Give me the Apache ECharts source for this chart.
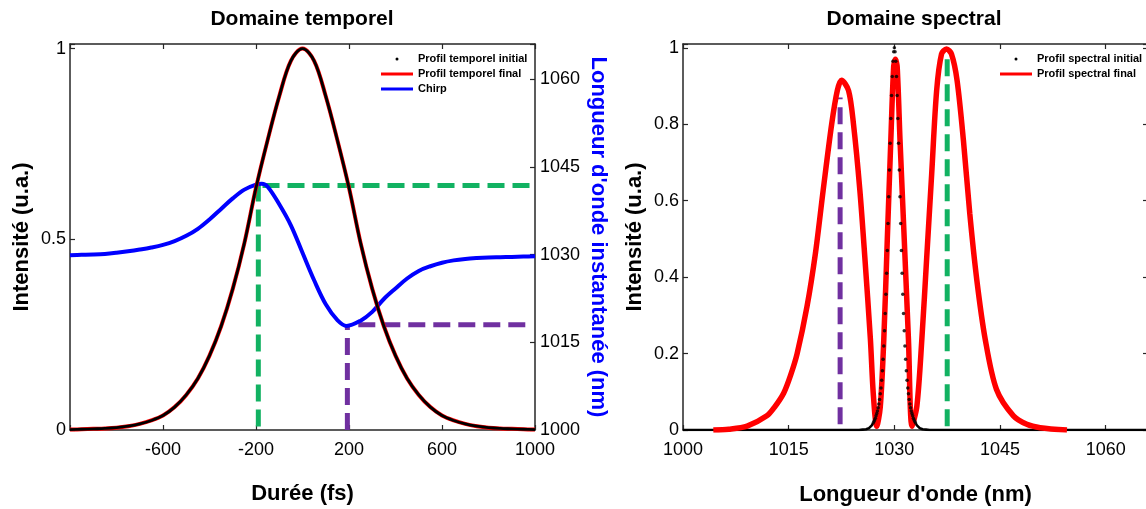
<!DOCTYPE html>
<html><head><meta charset="utf-8">
<script src="https://cdn.jsdelivr.net/npm/echarts@6/dist/echarts.min.js"></script>
<style>html,body{margin:0;padding:0;background:#fff}#c{width:1146px;height:509px}</style>
</head><body><div id="c"></div>
<script>
// ---------- Temporal domain ----------
const tempTime = [-1000,-950,-900,-850,-800,-750,-700,-650,-600,-550,-500,-450,-400,-350,-300,-250,-200,-150,-100,-50,0,50,100,150,200,250,300,350,400,450,500,550,600,650,700,750,800,850,900,950,1000];
const tempInitial = [0.001,0.002,0.003,0.004,0.006,0.010,0.016,0.025,0.038,0.060,0.092,0.135,0.195,0.272,0.370,0.490,0.635,0.760,0.875,0.968,1.000,0.968,0.875,0.760,0.635,0.490,0.370,0.272,0.195,0.135,0.092,0.060,0.038,0.025,0.016,0.010,0.006,0.004,0.003,0.002,0.001];
const tempFinal = [0.001,0.002,0.003,0.004,0.006,0.010,0.016,0.025,0.038,0.060,0.092,0.135,0.195,0.272,0.370,0.490,0.635,0.760,0.875,0.968,1.000,0.968,0.875,0.760,0.635,0.490,0.370,0.272,0.195,0.135,0.092,0.060,0.038,0.025,0.016,0.010,0.006,0.004,0.003,0.002,0.001];
const chirpTime = [-1000,-950,-900,-850,-800,-750,-700,-650,-600,-550,-500,-450,-400,-350,-300,-250,-200,-175,-150,-100,-50,0,50,100,150,190,250,300,350,400,450,500,550,600,650,700,750,800,850,900,950,1000];
const chirpNm = [1029.9,1029.95,1030.0,1030.1,1030.3,1030.55,1030.85,1031.2,1031.65,1032.3,1033.2,1034.4,1036.0,1037.8,1039.6,1041.1,1041.95,1042.1,1041.6,1038.6,1035.0,1030.3,1025.6,1021.5,1018.8,1017.8,1018.7,1020.2,1022.4,1024.2,1025.9,1027.2,1028.0,1028.6,1029.0,1029.25,1029.4,1029.5,1029.55,1029.6,1029.65,1029.7];
// dashed guide lines (temporal panel, right axis in nm)
const tGreenVertT = [-190, -190], tGreenVertNm = [1000.6, 1041.9];
const tGreenHorT = [-172, 1000], tGreenHorNm = [1041.8, 1041.8];
const tPurpleVertT = [193, 193], tPurpleVertNm = [1000, 1018.0];
const tPurpleHorT = [240, 965], tPurpleHorNm = [1018.0, 1018.0];
const tempXTicks = [-600, -200, 200, 600, 1000];
const tempYTicks = [0, 0.5, 1];
const chirpTicks = [1000, 1015, 1030, 1045, 1060];

// ---------- Spectral domain ----------
const specInitNm = [1000,1005,1010,1015,1020,1022,1023,1024,1025,1025.5,1026,1026.4,1026.8,1027.0,1027.1,1027.2,1027.3,1027.4,1027.5,1027.6,1027.7,1027.8,1027.9,1028.0,1028.1,1028.2,1028.3,1028.4,1028.5,1028.6,1028.7,1028.8,1028.9,1029.0,1029.1,1029.2,1029.3,1029.4,1029.5,1029.6,1029.7,1029.8,1029.9,1030.0,1030.1,1030.2,1030.3,1030.4,1030.5,1030.6,1030.7,1030.8,1030.9,1031.0,1031.1,1031.2,1031.3,1031.4,1031.5,1031.6,1031.7,1031.8,1031.9,1032.0,1032.1,1032.2,1032.3,1032.4,1032.5,1032.6,1032.7,1032.8,1032.9,1033.0,1033.2,1033.6,1034,1034.5,1035,1036,1038,1040,1045,1050,1055,1060,1066];
const specInitial = [0,0,0,0,0,0,0,0,0,0.001,0.002,0.005,0.012,0.018,0.022,0.026,0.031,0.037,0.043,0.050,0.058,0.068,0.080,0.095,0.110,0.130,0.155,0.185,0.220,0.260,0.305,0.355,0.410,0.470,0.540,0.610,0.680,0.750,0.815,0.875,0.925,0.965,0.990,1.000,0.990,0.965,0.925,0.875,0.815,0.750,0.680,0.610,0.540,0.470,0.410,0.355,0.305,0.260,0.220,0.185,0.155,0.130,0.110,0.095,0.080,0.068,0.058,0.050,0.043,0.037,0.031,0.026,0.022,0.018,0.012,0.005,0.002,0.001,0,0,0,0,0,0,0,0,0];
const specFinalNm = [1004.3,1006.5,1009.1,1011.9,1013.0,1014.3,1015.3,1016.2,1017.6,1018.8,1019.9,1021.1,1021.9,1022.5,1023.5,1024.2,1025.1,1025.8,1026.6,1027.0,1027.5,1028.0,1028.5,1029.0,1029.5,1029.9,1030.15,1030.4,1030.8,1031.4,1032.0,1032.5,1033.2,1033.9,1034.6,1035.3,1036.0,1036.7,1037.4,1038.1,1038.9,1039.8,1040.7,1041.7,1042.9,1044.5,1046.9,1048.8,1050.7,1054.5];
const specFinal = [0,0.002,0.010,0.037,0.060,0.097,0.145,0.200,0.323,0.463,0.628,0.800,0.888,0.915,0.888,0.800,0.628,0.454,0.237,0.097,0.010,0.060,0.237,0.500,0.760,0.950,0.970,0.950,0.760,0.500,0.237,0.010,0.063,0.237,0.454,0.671,0.888,0.984,0.997,0.984,0.915,0.758,0.567,0.393,0.237,0.106,0.037,0.015,0.006,0];
const sPurpleNm = [1022.3, 1022.3], sPurpleI = [0.015, 0.87];
const sGreenNm = [1037.5, 1037.5], sGreenI = [0.01, 0.975];
const specXTicks = [1000, 1015, 1030, 1045, 1060];
const specYTicks = [0, 0.2, 0.4, 0.6, 0.8, 1];

// ---------- helpers ----------
const FONT = "'Liberation Sans', Arial, Helvetica, sans-serif";
const BLUE = '#0000ff', RED = '#ff0000', GREEN = '#12b262', PURPLE = '#7030a0';
const pairs = (xs, ys) => xs.map((x, i) => [x, ys[i]]);
const fmt = ticks => v => { const m = ticks.find(t => Math.abs(t - v) < 1e-6); return m === undefined ? '' : String(m); };
const axLine = {show: true, onZero: false, lineStyle: {color: '#262626', width: 1.5}};
const axTick = {show: true, inside: true, length: 5, lineStyle: {color: '#262626', width: 1.2}};
const lab = (ticks, margin) => ({show: true, color: '#000', fontSize: 18, fontFamily: FONT, margin: margin, formatter: fmt(ticks), hideOverlap: false});
const nameStyle = c => ({fontSize: 22, fontWeight: 'bold', color: c || '#000', fontFamily: FONT});
const dash = (name, xs, ys, xi, yi, color) => ({
  type: 'line', name: name, xAxisIndex: xi, yAxisIndex: yi, data: pairs(xs, ys),
  symbol: 'none', z: 1, silent: true,
  lineStyle: {color: color, width: 5, type: [17, 8], cap: 'butt'}
});

const chart = echarts.init(document.getElementById('c'), null, {renderer: 'canvas'});
chart.setOption({
  animation: false,
  backgroundColor: '#fff',
  title: [
    {text: 'Domaine temporel', left: 302, top: 9, textAlign: 'center', padding: 0,
     textStyle: {fontSize: 21, fontWeight: 'bold', color: '#000', fontFamily: FONT}},
    {text: 'Domaine spectral', left: 914, top: 9, textAlign: 'center', padding: 0,
     textStyle: {fontSize: 21, fontWeight: 'bold', color: '#000', fontFamily: FONT}}
  ],
  legend: [
    {left: 381, top: 53, orient: 'vertical', itemWidth: 32, itemHeight: 3, itemGap: 3, padding: 0,
     selectedMode: false,
     textStyle: {fontSize: 11, fontWeight: 'bold', color: '#000', fontFamily: FONT, lineHeight: 12},
     data: [{name: 'Profil temporel initial', icon: 'circle'}, {name: 'Profil temporel final', icon: 'rect'}, {name: 'Chirp', icon: 'rect'}]},
    {left: 1000, top: 53, orient: 'vertical', itemWidth: 32, itemHeight: 3, itemGap: 3, padding: 0,
     selectedMode: false,
     textStyle: {fontSize: 11, fontWeight: 'bold', color: '#000', fontFamily: FONT, lineHeight: 12},
     data: [{name: 'Profil spectral initial', icon: 'circle'}, {name: 'Profil spectral final', icon: 'rect'}]}
  ],
  grid: [
    {left: 70, top: 44, width: 465, height: 386, containLabel: false, outerBoundsMode: 'none'},
    {left: 683, top: 44, width: 465, height: 386, containLabel: false, outerBoundsMode: 'none'}
  ],
  xAxis: [
    {gridIndex: 0, type: 'value', position: 'bottom', min: -1000, max: 1000, interval: 400,
     axisLine: axLine, axisTick: axTick, splitLine: {show: false}, axisLabel: lab(tempXTicks, 11),
     name: 'Durée (fs)', nameLocation: 'middle', nameGap: 53, nameTextStyle: nameStyle()},
    {gridIndex: 0, type: 'value', position: 'top', min: -1000, max: 1000, interval: 400,
     axisLine: axLine, axisTick: axTick, splitLine: {show: false}, axisLabel: {show: false}},
    {gridIndex: 1, type: 'value', position: 'bottom', min: 1000, max: 1066, interval: 15,
     axisLine: axLine, axisTick: axTick, splitLine: {show: false}, axisLabel: lab(specXTicks, 11),
     name: "Longueur d'onde (nm)", nameLocation: 'middle', nameGap: 54, nameTextStyle: nameStyle()},
    {gridIndex: 1, type: 'value', position: 'top', min: 1000, max: 1066, interval: 15,
     axisLine: axLine, axisTick: axTick, splitLine: {show: false}, axisLabel: {show: false}}
  ],
  yAxis: [
    {gridIndex: 0, type: 'value', position: 'left', min: 0, max: 1.012, interval: 0.5,
     axisLine: axLine, axisTick: axTick, splitLine: {show: false}, axisLabel: lab(tempYTicks, 4),
     name: 'Intensité (u.a.)', nameLocation: 'middle', nameRotate: 90, nameGap: 37, nameTextStyle: nameStyle()},
    {gridIndex: 0, type: 'value', position: 'right', min: 1000, max: 1066, interval: 15,
     axisLine: axLine, axisTick: axTick, splitLine: {show: false}, axisLabel: lab(chirpTicks, 5),
     name: "Longueur d'onde instantanée (nm)", nameLocation: 'middle', nameRotate: -90, nameGap: 52, nameTextStyle: nameStyle(BLUE)},
    {gridIndex: 1, type: 'value', position: 'left', min: 0, max: 1.01, interval: 0.2,
     axisLine: axLine, axisTick: axTick, splitLine: {show: false}, axisLabel: lab(specYTicks, 4),
     name: 'Intensité (u.a.)', nameLocation: 'middle', nameRotate: 90, nameGap: 37, nameTextStyle: nameStyle()},
    {gridIndex: 1, type: 'value', position: 'right', min: 0, max: 1.01, interval: 0.2,
     axisLine: axLine, axisTick: axTick, splitLine: {show: false}, axisLabel: {show: false}}
  ],
  series: [
    // temporal panel
    dash('g1', tGreenVertT, tGreenVertNm, 0, 1, GREEN),
    dash('g2', tGreenHorT, tGreenHorNm, 0, 1, GREEN),
    dash('p1', tPurpleVertT, tPurpleVertNm, 0, 1, PURPLE),
    dash('p2', tPurpleHorT, tPurpleHorNm, 0, 1, PURPLE),
    {type: 'line', name: 'Chirp', xAxisIndex: 0, yAxisIndex: 1, data: pairs(chirpTime, chirpNm),
     smooth: 0.35, symbol: 'none', z: 2, itemStyle: {color: BLUE}, lineStyle: {color: BLUE, width: 4}},
    {type: 'line', name: 'Profil temporel final', xAxisIndex: 0, yAxisIndex: 0, data: pairs(tempTime, tempFinal),
     smooth: 0.35, symbol: 'none', z: 3, itemStyle: {color: RED}, lineStyle: {color: RED, width: 4}},
    {type: 'line', name: 'Profil temporel initial', xAxisIndex: 0, yAxisIndex: 0, data: pairs(tempTime, tempInitial),
     smooth: 0.35, symbol: 'none', z: 4, itemStyle: {color: '#000'}, lineStyle: {color: '#000', width: 2.8}},
    // spectral panel
    dash('p3', sPurpleNm, sPurpleI, 2, 2, PURPLE),
    dash('g3', sGreenNm, sGreenI, 2, 2, GREEN),
    {type: 'line', name: 'Profil spectral initial', xAxisIndex: 2, yAxisIndex: 2,
     data: specInitNm.map((x, i) => [x, specInitial[i] <= 0.02 ? specInitial[i] : null]),
     connectNulls: false, symbol: 'none', z: 2, itemStyle: {color: '#000'}, lineStyle: {color: '#000', width: 2.6}},
    {type: 'line', name: 'Profil spectral final', xAxisIndex: 2, yAxisIndex: 2, data: pairs(specFinalNm, specFinal),
     smooth: 0.3, symbol: 'none', z: 3, itemStyle: {color: RED}, lineStyle: {color: RED, width: 5.5}},
    {type: 'scatter', name: 'Profil spectral initial', xAxisIndex: 2, yAxisIndex: 2,
     data: pairs(specInitNm, specInitial).filter(p => p[1] > 0.015),
     symbol: 'circle', symbolSize: 3.5, z: 4, itemStyle: {color: '#000'}}
  ]
});
</script></body></html>
